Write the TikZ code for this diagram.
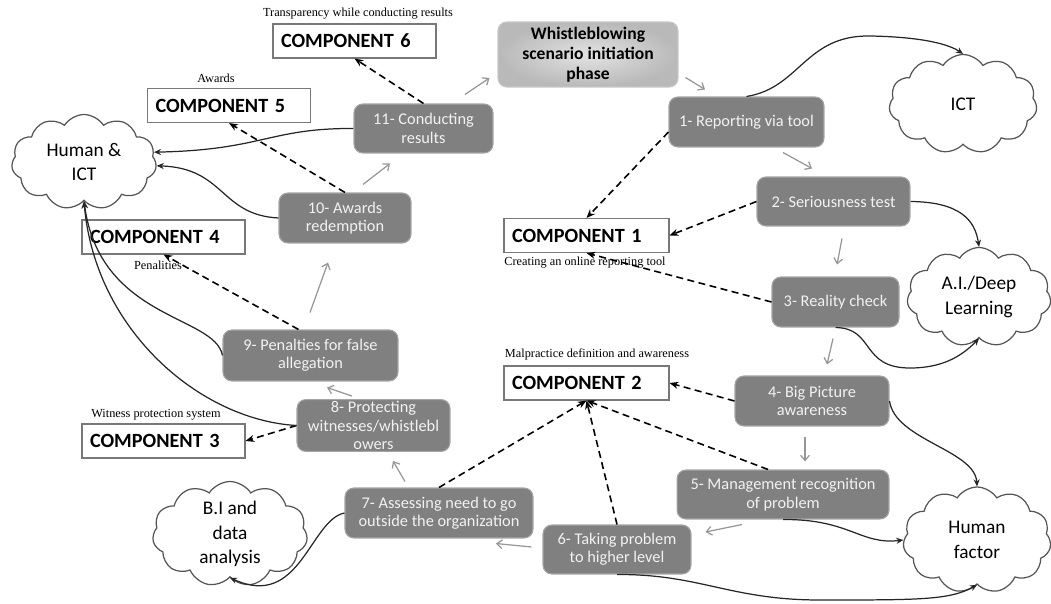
\documentclass[tikz,border=0pt]{standalone}
\usepackage{fontspec}
\setmainfont{Carlito}
\newfontfamily\capfont{Liberation Serif}
\usetikzlibrary{shapes.symbols,arrows.meta}
\definecolor{stepgray}{RGB}{128,128,128}
\definecolor{stepedge}{RGB}{165,165,165}
\definecolor{steptext}{RGB}{242,242,242}
\definecolor{flowgray}{RGB}{150,150,150}
\definecolor{boxedge}{RGB}{120,120,120}
\definecolor{cloudedge}{RGB}{85,85,85}

\begin{document}
\begin{tikzpicture}[x=0.02cm,y=-0.02cm,
  stepbox/.style={rectangle,rounded corners=5pt,fill=stepgray,draw=stepedge,line width=0.6pt,
    text=steptext,align=center,inner sep=1pt,font=\fontsize{9.3}{10.5}\selectfont},
  compbox/.style={rectangle,draw=boxedge,fill=white,line width=0.6pt,minimum height=0.68cm,
    text width=2.94cm,inner xsep=0.16cm,align=left,font=\fontsize{11.5}{13}\selectfont\bfseries},
  cloudnode/.style={cloud,cloud puffs=11,cloud puff arc=115,cloud ignores aspect,draw=cloudedge,
    fill=white,line width=0.7pt,align=center,inner sep=0pt,font=\fontsize{11}{14}\selectfont},
  captext/.style={font=\capfont\fontsize{7}{8}\selectfont,inner sep=0pt},
  flow/.style={-{Straight Barb[length=3pt,width=5pt]},draw=flowgray,line width=0.7pt},
  link/.style={-{Stealth[length=5pt,width=4pt]},dash pattern=on 4pt off 2.5pt,line width=0.9pt,black},
  tie/.style={-{Stealth[length=4pt,width=3.5pt]},line width=0.7pt,black!85}]
\useasboundingbox (0,0) rectangle (1051,604);

% components and their captions
\node[compbox] (c6) at (354.5,41) {COMPONENT 6};
\node[compbox] (c5) at (229,105.5) {COMPONENT 5};
\node[compbox] (c4) at (163.5,237) {COMPONENT 4};
\node[compbox,text width=2.98cm] (c1) at (586.5,235.5) {COMPONENT 1};
\node[compbox,text width=2.98cm] (c2) at (586.5,383) {COMPONENT 2};
\node[compbox] (c3) at (163.5,441) {COMPONENT 3};
\node[captext] (cap6) at (358,14) {Transparency while conducting results};
\node[captext] (cap5) at (216,78) {Awards};
\node[captext] (cap4) at (158,265) {Penalities};
\node[captext] (cap1) at (585,263) {Creating an online reporting tool};
\node[captext] (cap2) at (597,354) {Malpractice definition and awareness};
\node[captext] (cap3) at (156,415) {Witness protection system};

% clouds
\node[cloudnode,minimum width=2.9cm,minimum height=1.9cm] (hict) at (84,162) {Human \&\\ICT};
\node[cloudnode,minimum width=2.96cm,minimum height=1.98cm] (ict) at (963,104) {ICT};
\node[cloudnode,minimum width=2.88cm,minimum height=1.98cm] (ai) at (979,297) {A.I./Deep\\Learning};
\node[cloudnode,minimum width=2.96cm,minimum height=2.12cm] (hf) at (977,540) {Human\\factor};
\node[cloudnode,minimum width=3.1cm,minimum height=2.1cm] (bi) at (230,534) {B.I and\\data\\analysis};

% steps
\node[stepbox,minimum width=3.6cm,minimum height=1.3cm,inner color=gray!22,outer color=gray!55,
  draw=gray!45,text=black,font=\fontsize{10}{11.5}\selectfont\bfseries] (wb) at (588,54.5)
  {Whistleblowing\\scenario initiation\\phase};
\node[stepbox,minimum width=3.1cm,minimum height=1cm] (n1) at (746.5,122) {1- Reporting via tool};
\node[stepbox,minimum width=3.06cm,minimum height=0.98cm] (n2) at (833.5,201.5) {2- Seriousness test};
\node[stepbox,minimum width=2.54cm,minimum height=1cm] (n3) at (835.5,302) {3- Reality check};
\node[stepbox,minimum width=3.08cm,minimum height=1cm] (n4) at (812,401) {4- Big Picture\\awareness};
\node[stepbox,minimum width=4.24cm,minimum height=0.98cm] (n5) at (783,494.5) {5- Management recognition\\of problem};
\node[stepbox,minimum width=2.96cm,minimum height=0.98cm] (n6) at (617,549.5) {6- Taking problem\\to higher level};
\node[stepbox,minimum width=3.76cm,minimum height=1cm] (n7) at (439,513) {7- Assessing need to go\\outside the organization};
\node[stepbox,minimum width=3.06cm,minimum height=1.02cm] (n8) at (373.5,425.5) {8- Protecting\\witnesses/whistlebl\\owers};
\node[stepbox,minimum width=3.5cm,minimum height=1.02cm] (n9) at (310.5,355.5) {9- Penalties for false\\allegation};
\node[stepbox,minimum width=2.64cm,minimum height=1cm] (n10) at (345,218) {10- Awards\\redemption};
\node[stepbox,minimum width=2.78cm,minimum height=0.98cm] (n11) at (423.5,128.5) {11- Conducting\\results};

% flow of the scenario
\draw[flow] ([shift={(41.5,-9)}]n11.north) -- ([shift={(-8,23.5)}]wb.west);
\draw[flow] ([shift={(7,23)}]wb.east) -- ([shift={(-41.5,-7)}]n1.north);
\draw[flow] ([shift={(36.5,5)}]n1.south) -- ([shift={(-21.5,-8)}]n2.north);
\draw[flow] ([shift={(8.5,12)}]n2.south) -- ([shift={(1.5,-12)}]n3.north);
\draw[flow] ([shift={(-2.5,11)}]n3.south) -- ([shift={(15,-11)}]n4.north);
\draw[flow] ([shift={(-7,10)}]n4.south) -- ([shift={(22,-8)}]n5.north);
\draw[flow] ([shift={(-41,5)}]n5.south) -- ([shift={(14,-17.5)}]n6.east);
\draw[flow] ([shift={(-11,-2.5)}]n6.west) -- ([shift={(57,5)}]n7.south);
\draw[flow] ([shift={(-34,-6)}]n7.north) -- ([shift={(19.5,9)}]n8.south);
\draw[flow] ([shift={(-21.5,-3)}]n8.north) -- ([shift={(16.5,6)}]n9.south);
\draw[flow] ([shift={(-0.5,-17)}]n9.north) -- ([shift={(-17,19)}]n10.south);
\draw[flow] ([shift={(18,-8)}]n10.north) -- ([shift={(-33.5,10)}]n11.south);

% links to components
\draw[link] (n11.north) -- (c6.south);
\draw[link] (n10.north) -- (c5.south);
\draw[link] ([shift={(-12,0)}]n9.north) -- (c4.south);
\draw[link] (n8.west) -- (c3.east);
\draw[link] (n7.north) -- (c2.south);
\draw[link] (n6.north) -- (c2.south);
\draw[link] ([shift={(-15,0)}]n5.north) -- (c2.south);
\draw[link] (n4.west) -- (c2.east);
\draw[link] (n3.west) -- (c1.south);
\draw[link] (n2.west) -- (c1.east);
\draw[link] ([shift={(0,10)}]n1.west) -- (c1.north);

% links to technologies
\draw[tie] (n1.north) .. controls (800,88) and (805,35) .. (870,36) .. controls (925,37) and (950,45) .. (ict.north);
\draw[tie] (n2.east) .. controls (960,202) and (975,220) .. (ai.north);
\draw[tie] (n3.south) .. controls (875,328) and (860,368) .. (910,368) .. controls (940,368) and (960,358) .. (ai.south);
\draw[tie] (n4.east) .. controls (895,440) and (975,450) .. (hf.north);
\draw[tie] (n5.south) .. controls (850,519) and (860,545) .. (hf.west);
\draw[tie] (n6.south) .. controls (700,574) and (730,600) .. (820,600) .. controls (920,600) and (950,600) .. (hf.south);
\draw[tie] (n7.west) .. controls (310,520) and (300,610) .. (bi.south);
\draw[tie] (n8.west) .. controls (200,420) and (95,330) .. (hict.south);
\draw[tie] (n9.west) .. controls (215,315) and (100,320) .. (hict.south);
\draw[tie] (n10.west) .. controls (220,215) and (225,168) .. (hict.-3);
\draw[tie] (n11.west) .. controls (270,128) and (262,150) .. (hict.8);
\end{tikzpicture}
\end{document}
